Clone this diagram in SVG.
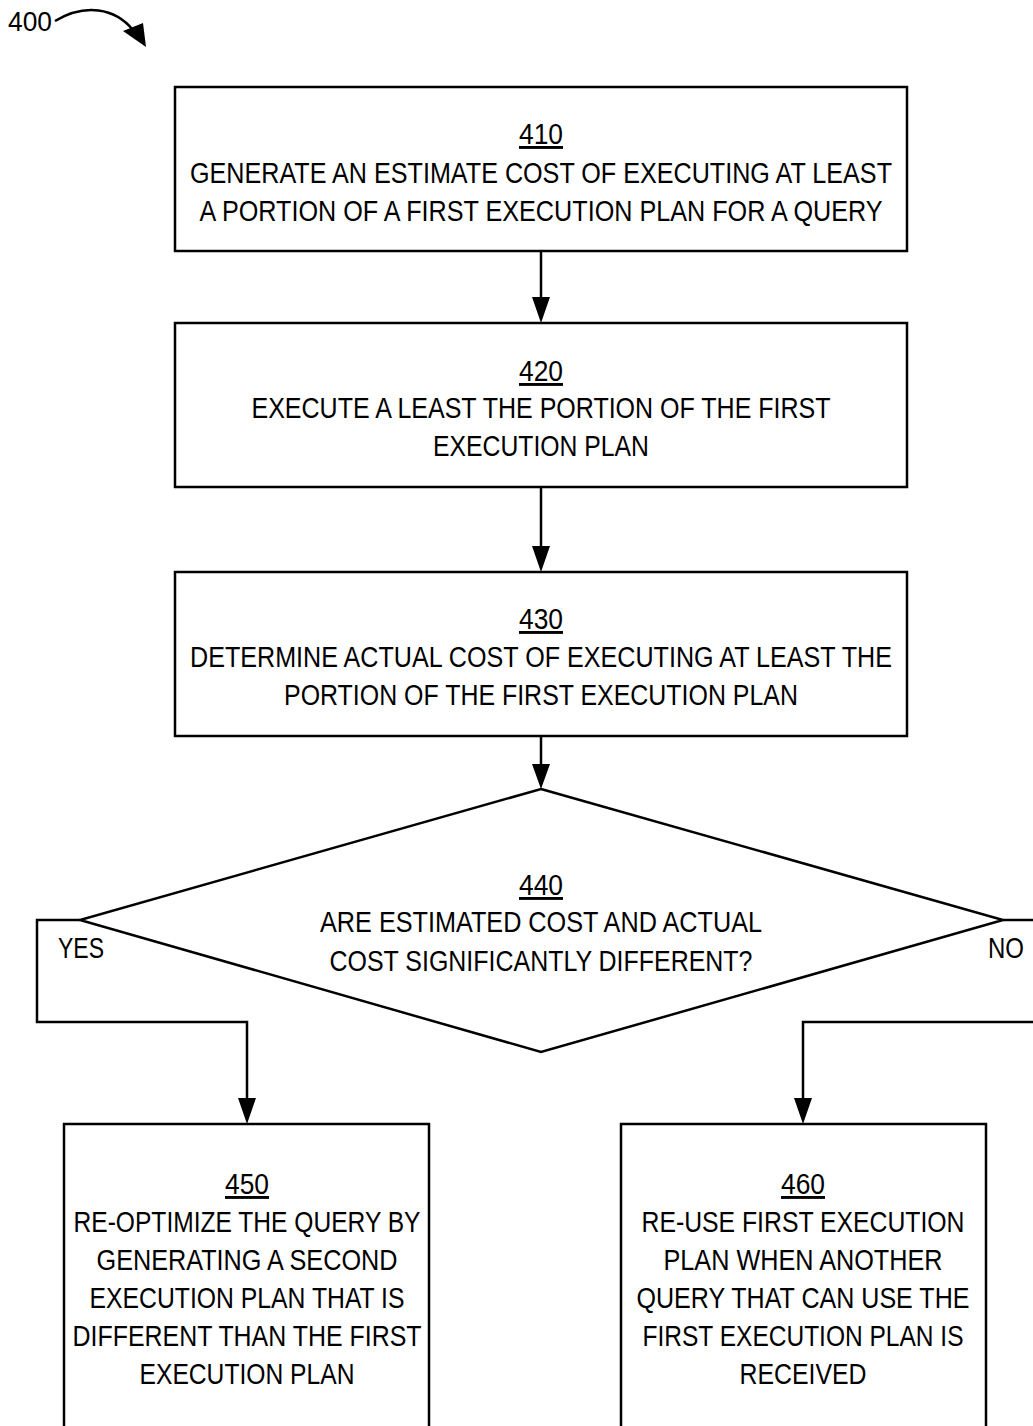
<svg xmlns="http://www.w3.org/2000/svg" width="1033" height="1426" viewBox="0 0 1033 1426">
<style>
.box{fill:#fff;stroke:#000;stroke-width:2.5}
.t{font-family:"Liberation Sans",Arial,sans-serif;font-size:29px;fill:#000;text-anchor:middle}
.n{text-decoration:underline}
.c{fill:none;stroke:#000;stroke-width:2.5}
</style>
<rect width="1033" height="1426" fill="#fff"/>
<g id="label400">
<text x="8" y="31" style="font-family:'Liberation Sans',Arial,sans-serif;font-size:27px" textLength="44" lengthAdjust="spacingAndGlyphs">400</text>
<path d="M55,21 C85,3 115,8 133,30" class="c" stroke-width="2"/>
<path d="M123,31 L143,23 L146,47 Z" fill="#000"/>
</g>
<g id="connectors">
<line x1="541" y1="251" x2="541" y2="299" class="c"/>
<path d="M532,297 L550,297 L541,323 Z"/>
<line x1="541" y1="487" x2="541" y2="548" class="c"/>
<path d="M532,546 L550,546 L541,572 Z"/>
<line x1="541" y1="736" x2="541" y2="766" class="c"/>
<path d="M532,764 L550,764 L541,789 Z"/>
<polyline points="80,920 37,920 37,1022 247,1022 247,1100" class="c"/>
<path d="M238,1098 L256,1098 L247,1124 Z"/>
<polyline points="1003,920 1033,920" class="c"/>
<polyline points="1033,1022 803,1022 803,1100" class="c"/>
<path d="M794,1098 L812,1098 L803,1124 Z"/>
</g>
<g id="n410">
<rect x="175" y="87" width="732" height="164" class="box"/>
<text x="541" y="144" class="t n" textLength="44" lengthAdjust="spacingAndGlyphs">410</text>
<text x="541" y="183" class="t" textLength="702" lengthAdjust="spacingAndGlyphs">GENERATE AN ESTIMATE COST OF EXECUTING AT LEAST</text>
<text x="541" y="221" class="t" textLength="683" lengthAdjust="spacingAndGlyphs">A PORTION OF A FIRST EXECUTION PLAN FOR A QUERY</text>
</g>
<g id="n420">
<rect x="175" y="323" width="732" height="164" class="box"/>
<text x="541" y="381" class="t n" textLength="44" lengthAdjust="spacingAndGlyphs">420</text>
<text x="541" y="418" class="t" textLength="579" lengthAdjust="spacingAndGlyphs">EXECUTE A LEAST THE PORTION OF THE FIRST</text>
<text x="541" y="456" class="t" textLength="216" lengthAdjust="spacingAndGlyphs">EXECUTION PLAN</text>
</g>
<g id="n430">
<rect x="175" y="572" width="732" height="164" class="box"/>
<text x="541" y="629" class="t n" textLength="44" lengthAdjust="spacingAndGlyphs">430</text>
<text x="541" y="667" class="t" textLength="702" lengthAdjust="spacingAndGlyphs">DETERMINE ACTUAL COST OF EXECUTING AT LEAST THE</text>
<text x="541" y="705" class="t" textLength="514" lengthAdjust="spacingAndGlyphs">PORTION OF THE FIRST EXECUTION PLAN</text>
</g>
<g id="n440">
<polygon points="541,789 1003,920 541,1052 80,920" class="box"/>
<text x="541" y="895" class="t n" textLength="44" lengthAdjust="spacingAndGlyphs">440</text>
<text x="541" y="932" class="t" textLength="442" lengthAdjust="spacingAndGlyphs">ARE ESTIMATED COST AND ACTUAL</text>
<text x="541" y="971" class="t" textLength="423" lengthAdjust="spacingAndGlyphs">COST SIGNIFICANTLY DIFFERENT?</text>
</g>
<g id="yes">
<text x="81" y="958" class="t" textLength="46" lengthAdjust="spacingAndGlyphs">YES</text>
</g>
<g id="no">
<text x="1006" y="958" class="t" textLength="36" lengthAdjust="spacingAndGlyphs">NO</text>
</g>
<g id="n450">
<rect x="64" y="1124" width="365" height="320" class="box"/>
<text x="247" y="1194" class="t n" textLength="44" lengthAdjust="spacingAndGlyphs">450</text>
<text x="247" y="1232" class="t" textLength="347" lengthAdjust="spacingAndGlyphs">RE-OPTIMIZE THE QUERY BY</text>
<text x="247" y="1270" class="t" textLength="301" lengthAdjust="spacingAndGlyphs">GENERATING A SECOND</text>
<text x="247" y="1308" class="t" textLength="315" lengthAdjust="spacingAndGlyphs">EXECUTION PLAN THAT IS</text>
<text x="247" y="1346" class="t" textLength="349" lengthAdjust="spacingAndGlyphs">DIFFERENT THAN THE FIRST</text>
<text x="247" y="1384" class="t" textLength="215" lengthAdjust="spacingAndGlyphs">EXECUTION PLAN</text>
</g>
<g id="n460">
<rect x="621" y="1124" width="365" height="320" class="box"/>
<text x="803" y="1194" class="t n" textLength="44" lengthAdjust="spacingAndGlyphs">460</text>
<text x="803" y="1232" class="t" textLength="323" lengthAdjust="spacingAndGlyphs">RE-USE FIRST EXECUTION</text>
<text x="803" y="1270" class="t" textLength="279" lengthAdjust="spacingAndGlyphs">PLAN WHEN ANOTHER</text>
<text x="803" y="1308" class="t" textLength="333" lengthAdjust="spacingAndGlyphs">QUERY THAT CAN USE THE</text>
<text x="803" y="1346" class="t" textLength="321" lengthAdjust="spacingAndGlyphs">FIRST EXECUTION PLAN IS</text>
<text x="803" y="1384" class="t" textLength="127" lengthAdjust="spacingAndGlyphs">RECEIVED</text>
</g>
</svg>
